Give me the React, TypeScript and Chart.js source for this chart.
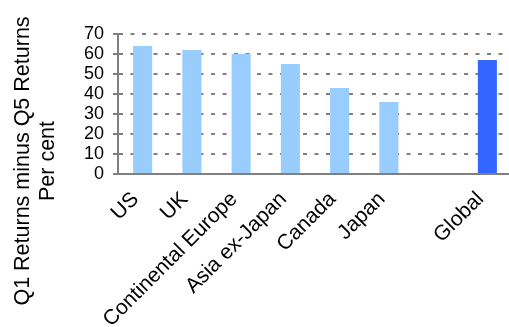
import React, { useEffect, useRef } from "react";
import { Chart, registerables } from "chart.js";

Chart.register(...registerables);

const categories = ["US", "UK", "Continental Europe", "Asia ex-Japan", "Canada", "Japan", "", "Global"];
const values = [64, 62, 60, 55, 43, 36, null, 57];
const barColors = ["#99CCFF", "#99CCFF", "#99CCFF", "#99CCFF", "#99CCFF", "#99CCFF", "#99CCFF", "#3366FF"];
const yTitleLines = ["Q1 Returns minus Q5 Returns", "Per cent"];
const yMin = 0;
const yMax = 70;
const yStep = 10;

const FONT = "'Liberation Sans', Arial, Helvetica, sans-serif";

const yTitlePlugin = {
  id: "yTitlePlugin",
  afterDraw(chart: any) {
    const ctx = chart.ctx;
    ctx.save();
    ctx.fillStyle = "#000";
    ctx.font = `21.5px ${FONT}`;
    ctx.textAlign = "center";
    ctx.textBaseline = "alphabetic";
    ctx.translate(0, 161);
    ctx.rotate(-Math.PI / 2);
    const baselines = [29, 54];
    yTitleLines.forEach((line, i) => {
      ctx.fillText(line, 0, baselines[i]);
    });
    ctx.restore();
  },
};

export default function App() {
  const canvasRef = useRef<HTMLCanvasElement | null>(null);

  useEffect(() => {
    document.body.style.margin = "0";
    document.body.style.background = "#fff";
    const canvas = canvasRef.current;
    if (!canvas) return;
    const chart = new Chart(canvas, {
      type: "bar",
      data: {
        labels: categories,
        datasets: [
          {
            data: values as any,
            backgroundColor: barColors,
            borderWidth: 0,
            barPercentage: 0.387,
            categoryPercentage: 1,
          },
        ],
      },
      options: {
        animation: false,
        responsive: false,
        devicePixelRatio: 1,
        layout: { padding: { left: 60, right: 8, top: 34, bottom: 0 } },
        plugins: {
          legend: { display: false },
          tooltip: { enabled: false },
        },
        scales: {
          x: {
            grid: { display: false, drawTicks: false },
            border: { display: true, color: "#808080", width: 2 },
            ticks: {
              color: "#000",
              font: { family: FONT, size: 21 },
              minRotation: 45,
              maxRotation: 45,
              autoSkip: false,
              padding: 13,
              labelOffset: -7,
            },
            afterFit(scale: any) {
              scale.height = 153;
            },
          },
          y: {
            min: yMin,
            max: yMax,
            grid: {
              color: "#808080",
              lineWidth: 2,
              tickLength: 5,
              drawTicks: true,
              tickBorderDash: [],
              tickColor: "#808080",
            },
            border: { display: true, color: "#808080", width: 2, dash: [4, 7.5] },
            ticks: {
              stepSize: yStep,
              autoSkip: false,
              color: "#000",
              font: { family: FONT, size: 18 },
              padding: 9,
            },
            afterFit(scale: any) {
              scale.width = 58;
            },
          },
        },
      },
      plugins: [yTitlePlugin],
    });
    return () => chart.destroy();
  }, []);

  return (
    <div
      style={{
        position: "absolute",
        left: 0,
        top: 0,
        width: 509,
        height: 327,
        overflow: "hidden",
        background: "#fff",
      }}
    >
      <canvas ref={canvasRef} width={520} height={327} style={{ width: 520, height: 327, display: "block" }} />
    </div>
  );
}
